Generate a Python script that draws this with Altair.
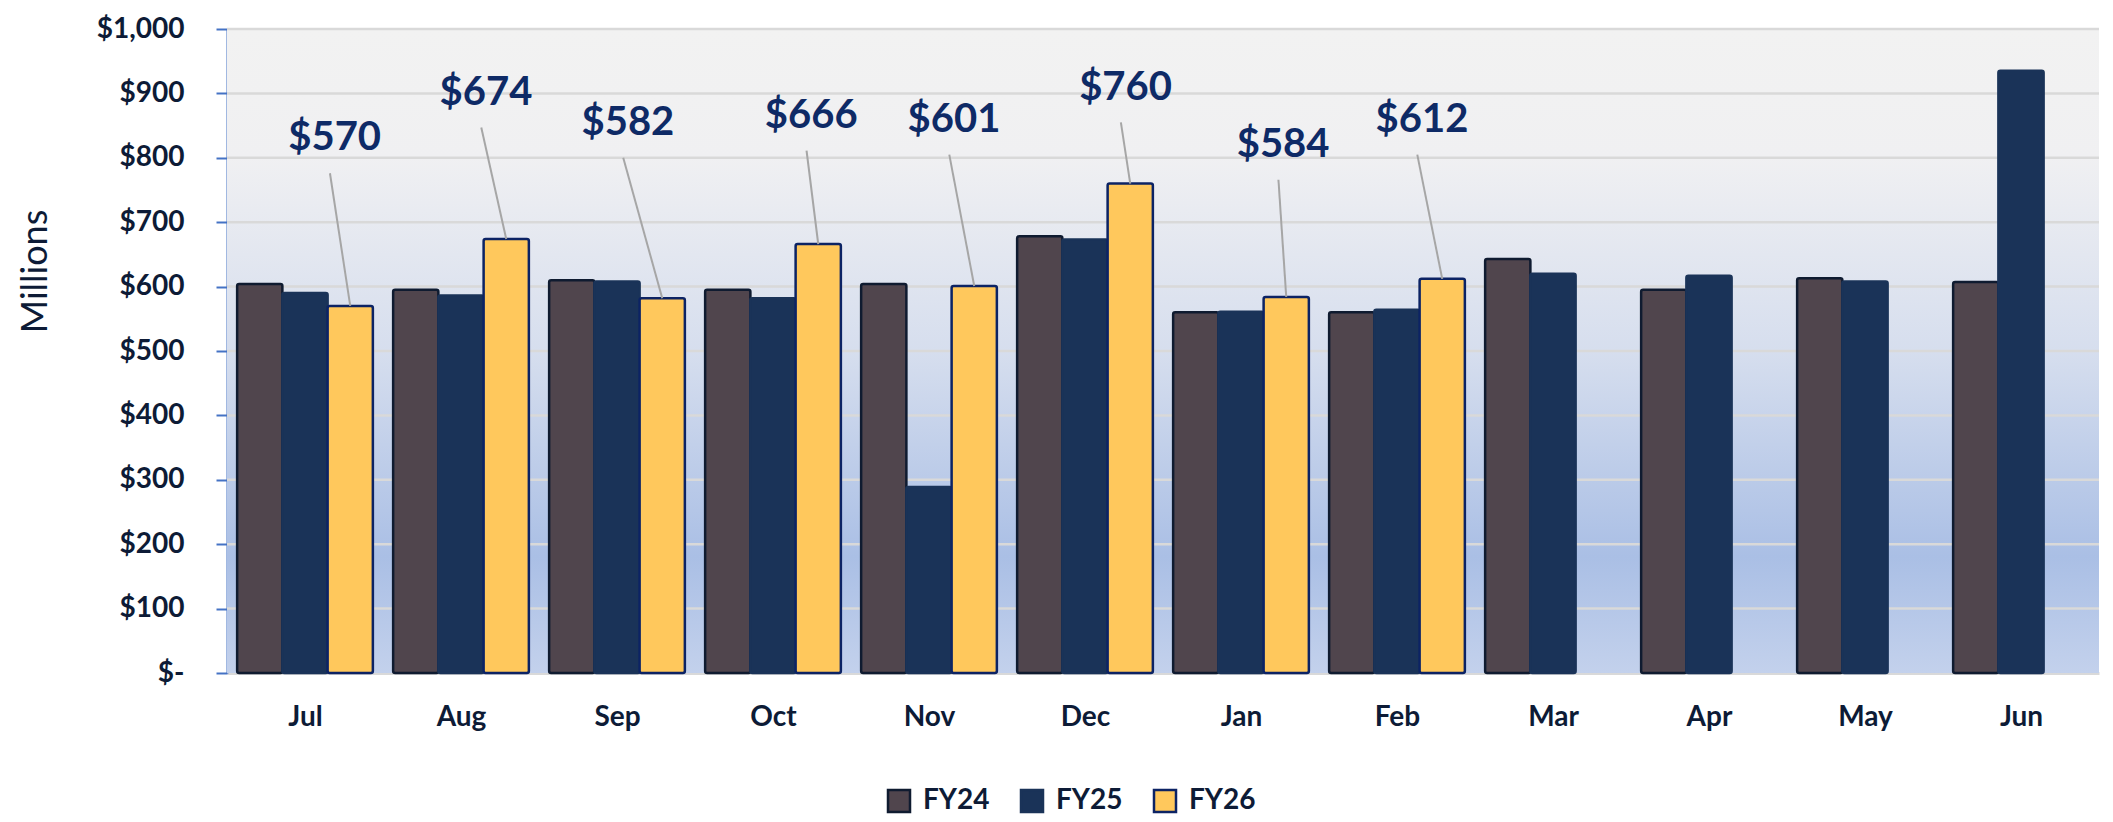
import altair as alt
import pandas as pd

# ---------------- data ----------------
months = ["Jul", "Aug", "Sep", "Oct", "Nov", "Dec", "Jan", "Feb", "Mar", "Apr", "May", "Jun"]
series = ["FY24", "FY25", "FY26"]
fy24 = [604, 595, 610, 595, 604, 678, 560, 560, 643, 595, 613, 607]
fy25 = [590, 586, 608, 582, 289, 673, 561, 564, 620, 617, 608, 935]
fy26 = [570, 674, 582, 666, 601, 760, 584, 612, None, None, None, None]
y_ticks = list(range(0, 1001, 100))

# ---------------- layout (callout placement) ----------------
label_height = [830, 901, 854, 865, 859, 909, 820, 859]      # in $ units
label_shift = [-0.10, -0.13, -0.22, -0.045, -0.13, -0.03, -0.02, -0.13]  # in month units
bar_w = 0.29
offsets = [0.065, 0.355, 0.645]

fills = ["#50454d", "#1a3358", "#ffc85c"]
strokes = ["#0f1b30", "#1a3358", "#0c2364"]
navy = "#0d1b36"

rows = []
for i, m in enumerate(months):
    for s, vals, off in zip(series, [fy24, fy25, fy26], offsets):
        v = vals[i]
        if v is None:
            continue
        rows.append(dict(month=m, series=s, value=v, base=0, x0=i + off, x1=i + off + bar_w))
bars_df = pd.DataFrame(rows)

lab_rows = []
for i, v in enumerate(fy26):
    if v is None:
        continue
    cx = i + offsets[2] + bar_w / 2
    lx = cx + label_shift[i]
    ly = label_height[i]
    lab_rows.append(dict(txt="$" + str(v), lx=lx, ly=ly, xs=lx - 0.03, ys=ly - 54, xe=cx, ye=v))
lab_df = pd.DataFrame(lab_rows)

grid_df = pd.DataFrame({"tick": y_ticks[1:]})
bg_df = pd.DataFrame({"x0": [0], "x1": [12], "y0": [0], "y1": [1000]})

xs = alt.Scale(domain=[0, 12], nice=False, zero=False)
ys = alt.Scale(domain=[0, 1000], nice=False)

month_js = "[" + ",".join("'" + m + "'" for m in months) + "]"
x_axis = alt.Axis(
    title=None, values=[i + 0.5 for i in range(12)],
    labelExpr=month_js + "[floor(datum.value)]",
    grid=False, ticks=False, domain=True, domainColor="#d9d9d9", domainWidth=3,
    labelFont="Lato", labelFontSize=28, labelFontWeight="bold", labelColor=navy,
    labelPadding=30, labelFlush=False, labelOverlap=False,
)
y_axis = alt.Axis(
    title="Millions", values=y_ticks,
    labelExpr="datum.value == 0 ? '$-\u00a0\u00a0' : '$' + format(datum.value, ',')",
    grid=False, domainColor="#4472c4", domainWidth=2, tickColor="#4472c4",
    tickWidth=2, tickSize=11, labelPadding=32,
    labelFont="Lato", labelFontSize=28, labelFontWeight="bold", labelColor=navy,
    titleFont="Lato", titleFontSize=36, titleFontWeight="normal", titleColor=navy,
    titleX=-192, titleY=242, titleAlign="center", titleBaseline="middle", titleAngle=270,
)


def X(f):
    return alt.X(f, type="quantitative", scale=xs, axis=x_axis)


def Y(f):
    return alt.Y(f, type="quantitative", scale=ys, axis=y_axis)


gradient = {
    "gradient": "linear", "x1": 0, "x2": 0, "y1": 0, "y2": 1,
    "stops": [
        {"offset": 0.0, "color": "#f2f2f2"},
        {"offset": 0.2, "color": "#f0f0f2"},
        {"offset": 0.5, "color": "#d6deee"},
        {"offset": 0.82, "color": "#aabfe5"},
        {"offset": 1.0, "color": "#c3d1ec"},
    ],
}

bg = alt.Chart(bg_df).mark_rect(fill=gradient).encode(
    x=X("x0"), x2="x1", y=Y("y0"), y2="y1"
)

grid = alt.Chart(grid_df).mark_rule(color="#d9d9d9", strokeWidth=2.5).encode(y=Y("tick"))

legend = alt.Legend(
    title=None, orient="none", legendX=658, legendY=758, direction="horizontal",
    symbolType="square", symbolSize=484, symbolStrokeWidth=2.5,
    labelFont="Lato", labelFontSize=28, labelFontWeight="bold", labelColor=navy,
    labelOffset=10, columnPadding=26,
)

bars = alt.Chart(bars_df).mark_bar(strokeWidth=2.5, cornerRadius=2).encode(
    x=X("x0"), x2="x1", y=Y("value"), y2="base",
    fill=alt.Fill("series:N", scale=alt.Scale(domain=series, range=fills), legend=legend),
    stroke=alt.Stroke("series:N", scale=alt.Scale(domain=series, range=strokes), legend=legend),
)

leaders = alt.Chart(lab_df).mark_rule(color="#a6a6a6", strokeWidth=2).encode(
    x=X("xs"), x2="xe", y=Y("ys"), y2="ye"
)

labels = alt.Chart(lab_df).mark_text(
    font="Lato", fontSize=40, fontWeight="bold", color="#0e2a66",
    align="center", baseline="middle",
).encode(x=X("lx"), y=Y("ly"), text="txt:N")

chart = alt.layer(bg, grid, bars, leaders, labels).properties(
    width=1872, height=644,
    autosize=alt.AutoSizeParams(type="none"),
    padding={"left": 219, "top": 21, "right": 6, "bottom": 142},
    background="white",
).configure_view(strokeWidth=0)

chart.save("out.html", embed_options={"renderer": "svg", "actions": False})
